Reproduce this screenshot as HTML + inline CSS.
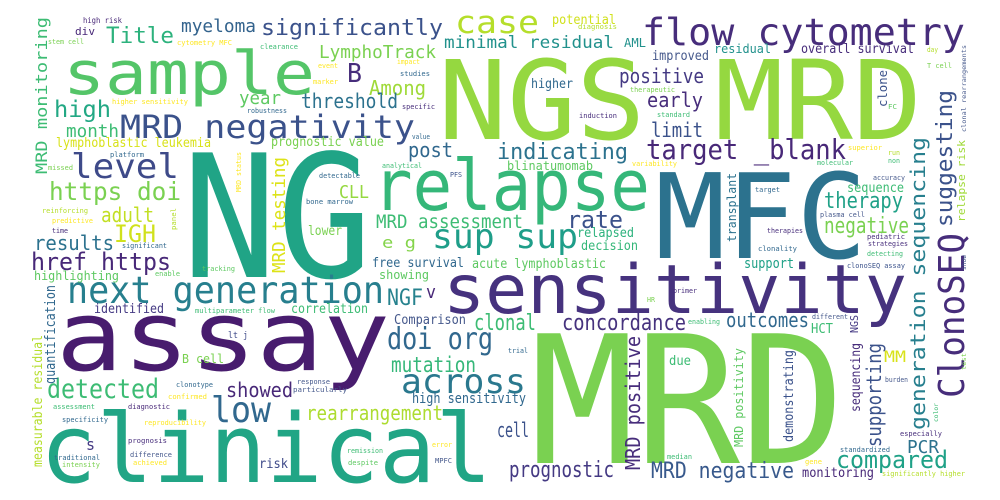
<!DOCTYPE html>
<html><head><meta charset="utf-8"><style>
html,body{margin:0;padding:0;background:#fff;}
svg{display:block;}
text{font-family:"DejaVu Sans Mono","Liberation Mono",monospace;}
</style></head><body>
<svg width="1000" height="500" viewBox="0 0 1000 500" xmlns="http://www.w3.org/2000/svg">
<rect width="1000" height="500" fill="#ffffff"/>
<g>
<text x="182" y="277" font-size="171" fill="#20a486" textLength="190" lengthAdjust="spacingAndGlyphs">NG</text>
<text x="438" y="139" font-size="110" fill="#95d840" textLength="484" lengthAdjust="spacingAndGlyphs">NGS MRD</text>
<text x="530" y="463" font-size="178" fill="#7ad151" textLength="315" lengthAdjust="spacingAndGlyphs">MRD</text>
<text x="655" y="258" font-size="118" fill="#2c728e" textLength="212" lengthAdjust="spacingAndGlyphs">MFC</text>
<text x="56" y="370" font-size="97" fill="#481c6e" textLength="334" lengthAdjust="spacingAndGlyphs">assay</text>
<text x="40" y="482" font-size="95" fill="#21a585" textLength="452" lengthAdjust="spacingAndGlyphs">clinical</text>
<text x="443" y="313" font-size="68" fill="#46327e" textLength="464" lengthAdjust="spacingAndGlyphs">sensitivity</text>
<text x="373" y="210" font-size="70" fill="#35b779" textLength="277" lengthAdjust="spacingAndGlyphs">relapse</text>
<text x="63" y="94" font-size="60" fill="#54c568" textLength="252" lengthAdjust="spacingAndGlyphs">sample</text>
<text x="642" y="45" font-size="37" fill="#472d7b" textLength="323" lengthAdjust="spacingAndGlyphs">flow cytometry</text>
<text x="455" y="33" font-size="31" fill="#b5de2b" textLength="84" lengthAdjust="spacingAndGlyphs">case</text>
<text x="67" y="303" font-size="37" fill="#277f8e" textLength="317" lengthAdjust="spacingAndGlyphs">next generation</text>
<text x="120" y="138" font-size="32" fill="#3b528b" textLength="295" lengthAdjust="spacingAndGlyphs">MRD negativity</text>
<text x="71" y="178" font-size="34" fill="#3e4a89" textLength="108" lengthAdjust="spacingAndGlyphs">level</text>
<text x="49" y="200" font-size="25" fill="#7ad151" textLength="132" lengthAdjust="spacingAndGlyphs">https doi</text>
<text x="54" y="117" font-size="23" fill="#22a884" textLength="57" lengthAdjust="spacingAndGlyphs">high</text>
<text x="66" y="137" font-size="18" fill="#3dbc74" textLength="53" lengthAdjust="spacingAndGlyphs">month</text>
<text x="106" y="43" font-size="22" fill="#2db27d" textLength="68" lengthAdjust="spacingAndGlyphs">Title</text>
<text x="181" y="32" font-size="18" fill="#33638d" textLength="75" lengthAdjust="spacingAndGlyphs">myeloma</text>
<text x="261" y="35" font-size="22" fill="#3b528b" textLength="182" lengthAdjust="spacingAndGlyphs">significantly</text>
<text x="319" y="58" font-size="18" fill="#7ad151" textLength="117" lengthAdjust="spacingAndGlyphs">LymphoTrack</text>
<text x="347" y="82" font-size="26" fill="#472d7b" textLength="15" lengthAdjust="spacingAndGlyphs">B</text>
<text x="369" y="95" font-size="20" fill="#a0da39" textLength="57" lengthAdjust="spacingAndGlyphs">Among</text>
<text x="239" y="104" font-size="18" fill="#5ec962" textLength="42" lengthAdjust="spacingAndGlyphs">year</text>
<text x="301" y="108" font-size="20" fill="#2c728e" textLength="97" lengthAdjust="spacingAndGlyphs">threshold</text>
<text x="444" y="48" font-size="17" fill="#21918c" textLength="170" lengthAdjust="spacingAndGlyphs">minimal residual</text>
<text x="271" y="146" font-size="13" fill="#7ad151" textLength="113" lengthAdjust="spacingAndGlyphs">prognostic value</text>
<text x="56" y="147" font-size="13" fill="#d8e219" textLength="155" lengthAdjust="spacingAndGlyphs">lymphoblastic leukemia</text>
<text transform="translate(47,174) rotate(-90)" font-size="16" fill="#3dbc74" textLength="157" lengthAdjust="spacingAndGlyphs">MRD monitoring</text>
<text transform="translate(285,273) rotate(-90)" font-size="18" fill="#dde318" textLength="116" lengthAdjust="spacingAndGlyphs">MRD testing</text>
<text x="101" y="222" font-size="20" fill="#c2df23" textLength="53" lengthAdjust="spacingAndGlyphs">adult</text>
<text x="114" y="242" font-size="24" fill="#d0e11c" textLength="42" lengthAdjust="spacingAndGlyphs">IGH</text>
<text x="34" y="250" font-size="20" fill="#2c728e" textLength="80" lengthAdjust="spacingAndGlyphs">results</text>
<text x="31" y="270" font-size="24" fill="#482878" textLength="140" lengthAdjust="spacingAndGlyphs">href https</text>
<text x="34" y="280" font-size="12" fill="#5ec962" textLength="85" lengthAdjust="spacingAndGlyphs">highlighting</text>
<text x="339" y="198" font-size="18" fill="#95d840" textLength="30" lengthAdjust="spacingAndGlyphs">CLL</text>
<text x="376" y="228" font-size="19" fill="#3dbc74" textLength="147" lengthAdjust="spacingAndGlyphs">MRD assessment</text>
<text x="382" y="248" font-size="16" fill="#84d44b" textLength="34" lengthAdjust="spacingAndGlyphs">e g</text>
<text x="432" y="248" font-size="34" fill="#1f9e89" textLength="146" lengthAdjust="spacingAndGlyphs">sup sup</text>
<text x="372" y="267" font-size="13" fill="#31688e" textLength="92" lengthAdjust="spacingAndGlyphs">free survival</text>
<text x="472" y="268" font-size="13" fill="#5ec962" textLength="134" lengthAdjust="spacingAndGlyphs">acute lymphoblastic</text>
<text x="379" y="279" font-size="12" fill="#5ec962" textLength="50" lengthAdjust="spacingAndGlyphs">showing</text>
<text x="387" y="305" font-size="22" fill="#26828e" textLength="36" lengthAdjust="spacingAndGlyphs">NGF</text>
<text x="426" y="298" font-size="18" fill="#482878" textLength="10" lengthAdjust="spacingAndGlyphs">v</text>
<text x="94" y="313" font-size="13" fill="#443983" textLength="70" lengthAdjust="spacingAndGlyphs">identified</text>
<text x="291" y="313" font-size="13" fill="#3dbc74" textLength="77" lengthAdjust="spacingAndGlyphs">correlation</text>
<text x="394" y="324" font-size="13" fill="#46598c" textLength="72" lengthAdjust="spacingAndGlyphs">Comparison</text>
<text x="387" y="349" font-size="30" fill="#31688e" textLength="106" lengthAdjust="spacingAndGlyphs">doi org</text>
<text x="391" y="372" font-size="21" fill="#35b779" textLength="85" lengthAdjust="spacingAndGlyphs">mutation</text>
<text x="401" y="393" font-size="34" fill="#2a788e" textLength="125" lengthAdjust="spacingAndGlyphs">across</text>
<text x="47" y="398" font-size="27" fill="#3dbc74" textLength="112" lengthAdjust="spacingAndGlyphs">detected</text>
<text x="226" y="397" font-size="20" fill="#482878" textLength="67" lengthAdjust="spacingAndGlyphs">showed</text>
<text x="211" y="422" font-size="36" fill="#31688e" textLength="60" lengthAdjust="spacingAndGlyphs">low</text>
<text x="306" y="420" font-size="20" fill="#addc30" textLength="137" lengthAdjust="spacingAndGlyphs">rearrangement</text>
<text x="412" y="403" font-size="14" fill="#31688e" textLength="114" lengthAdjust="spacingAndGlyphs">high sensitivity</text>
<text x="182" y="363" font-size="12" fill="#7ad151" textLength="42" lengthAdjust="spacingAndGlyphs">B cell</text>
<text transform="translate(55,384) rotate(-90)" font-size="14" fill="#31688e" textLength="99" lengthAdjust="spacingAndGlyphs">quantification</text>
<text transform="translate(42,467) rotate(-90)" font-size="13" fill="#b5de2b" textLength="132" lengthAdjust="spacingAndGlyphs">measurable residual</text>
<text x="86" y="450" font-size="16" fill="#443983" textLength="9" lengthAdjust="spacingAndGlyphs">s</text>
<text x="259" y="468" font-size="13" fill="#3e4a89" textLength="29" lengthAdjust="spacingAndGlyphs">risk</text>
<text x="497" y="437" font-size="20" fill="#3b528b" textLength="32" lengthAdjust="spacingAndGlyphs">cell</text>
<text x="408" y="157" font-size="20" fill="#31688e" textLength="45" lengthAdjust="spacingAndGlyphs">post</text>
<text x="308" y="235" font-size="13" fill="#7ad151" textLength="34" lengthAdjust="spacingAndGlyphs">lower</text>
<text x="646" y="159" font-size="28" fill="#482878" textLength="200" lengthAdjust="spacingAndGlyphs">target _blank</text>
<text x="497" y="159" font-size="22" fill="#2c728e" textLength="131" lengthAdjust="spacingAndGlyphs">indicating</text>
<text x="619" y="83" font-size="20" fill="#443983" textLength="85" lengthAdjust="spacingAndGlyphs">positive</text>
<text x="647" y="107" font-size="20" fill="#472d7b" textLength="56" lengthAdjust="spacingAndGlyphs">early</text>
<text x="651" y="137" font-size="20" fill="#3b528b" textLength="52" lengthAdjust="spacingAndGlyphs">limit</text>
<text x="531" y="88" font-size="13" fill="#31688e" textLength="42" lengthAdjust="spacingAndGlyphs">higher</text>
<text x="652" y="60" font-size="13" fill="#46598c" textLength="57" lengthAdjust="spacingAndGlyphs">improved</text>
<text x="552" y="24" font-size="13" fill="#d0e11c" textLength="64" lengthAdjust="spacingAndGlyphs">potential</text>
<text x="624" y="47" font-size="12" fill="#21918c" textLength="22" lengthAdjust="spacingAndGlyphs">AML</text>
<text x="714" y="53" font-size="12" fill="#21918c" textLength="57" lengthAdjust="spacingAndGlyphs">residual</text>
<text x="801" y="53" font-size="13" fill="#472d7b" textLength="113" lengthAdjust="spacingAndGlyphs">overall survival</text>
<text x="507" y="170" font-size="12" fill="#5ec962" textLength="86" lengthAdjust="spacingAndGlyphs">blinatumomab</text>
<text x="567" y="228" font-size="24" fill="#3b528b" textLength="56" lengthAdjust="spacingAndGlyphs">rate</text>
<text x="577" y="237" font-size="13" fill="#2db27d" textLength="57" lengthAdjust="spacingAndGlyphs">relapsed</text>
<text x="581" y="250" font-size="13" fill="#35b779" textLength="57" lengthAdjust="spacingAndGlyphs">decision</text>
<text x="824" y="208" font-size="22" fill="#1fa187" textLength="79" lengthAdjust="spacingAndGlyphs">therapy</text>
<text x="824" y="233" font-size="22" fill="#7ad151" textLength="85" lengthAdjust="spacingAndGlyphs">negative</text>
<text x="847" y="192" font-size="13" fill="#3dbc74" textLength="57" lengthAdjust="spacingAndGlyphs">sequence</text>
<text x="744" y="268" font-size="14" fill="#1fa187" textLength="50" lengthAdjust="spacingAndGlyphs">support</text>
<text x="562" y="330" font-size="22" fill="#46327e" textLength="124" lengthAdjust="spacingAndGlyphs">concordance</text>
<text x="726" y="327" font-size="20" fill="#31688e" textLength="83" lengthAdjust="spacingAndGlyphs">outcomes</text>
<text x="474" y="330" font-size="22" fill="#3dbc74" textLength="62" lengthAdjust="spacingAndGlyphs">clonal</text>
<text x="811" y="333" font-size="13" fill="#3dbc74" textLength="22" lengthAdjust="spacingAndGlyphs">HCT</text>
<text transform="translate(736,242) rotate(-90)" font-size="12" fill="#2c728e" textLength="69" lengthAdjust="spacingAndGlyphs">transplant</text>
<text transform="translate(925,430) rotate(-90)" font-size="20" fill="#277f8e" textLength="293" lengthAdjust="spacingAndGlyphs">generation sequencing</text>
<text transform="translate(964,398) rotate(-90)" font-size="36" fill="#472d7b" textLength="165" lengthAdjust="spacingAndGlyphs">ClonoSEQ</text>
<text transform="translate(952,227) rotate(-90)" font-size="22" fill="#3b528b" textLength="137" lengthAdjust="spacingAndGlyphs">suggesting</text>
<text transform="translate(965,222) rotate(-90)" font-size="11" fill="#a0da39" textLength="82" lengthAdjust="spacingAndGlyphs">relapse risk</text>
<text transform="translate(887,107) rotate(-90)" font-size="12" fill="#3b528b" textLength="37" lengthAdjust="spacingAndGlyphs">clone</text>
<text transform="translate(881,447) rotate(-90)" font-size="20" fill="#3b528b" textLength="104" lengthAdjust="spacingAndGlyphs">supporting</text>
<text x="884" y="362" font-size="16" fill="#d8e219" textLength="22" lengthAdjust="spacingAndGlyphs">MM</text>
<text x="907" y="453" font-size="18" fill="#2c728e" textLength="32" lengthAdjust="spacingAndGlyphs">PCR</text>
<text x="836" y="468" font-size="24" fill="#1fa187" textLength="112" lengthAdjust="spacingAndGlyphs">compared</text>
<text x="802" y="477" font-size="13" fill="#482878" textLength="72" lengthAdjust="spacingAndGlyphs">monitoring</text>
<text x="651" y="478" font-size="22" fill="#38598c" textLength="143" lengthAdjust="spacingAndGlyphs">MRD negative</text>
<text x="509" y="477" font-size="22" fill="#443983" textLength="105" lengthAdjust="spacingAndGlyphs">prognostic</text>
<text transform="translate(640,470) rotate(-90)" font-size="20" fill="#472d7b" textLength="134" lengthAdjust="spacingAndGlyphs">MRD positive</text>
<text transform="translate(743,447) rotate(-90)" font-size="12" fill="#5ec962" textLength="99" lengthAdjust="spacingAndGlyphs">MRD positivity</text>
<text transform="translate(793,442) rotate(-90)" font-size="13" fill="#3b528b" textLength="92" lengthAdjust="spacingAndGlyphs">demonstrating</text>
<text transform="translate(860,412) rotate(-90)" font-size="13" fill="#472d7b" textLength="69" lengthAdjust="spacingAndGlyphs">sequencing</text>
<text x="669" y="365" font-size="13" fill="#3dbc74" textLength="22" lengthAdjust="spacingAndGlyphs">due</text>
<text transform="translate(858,333) rotate(-90)" font-size="11" fill="#443983" textLength="18" lengthAdjust="spacingAndGlyphs">NGS</text>
<text x="83" y="23" font-size="8" fill="#482878" textLength="39" lengthAdjust="spacingAndGlyphs">high risk</text>
<text x="75" y="35" font-size="11" fill="#482878" textLength="20" lengthAdjust="spacingAndGlyphs">div</text>
<text x="48" y="44" font-size="7" fill="#7ad151" textLength="36" lengthAdjust="spacingAndGlyphs">stem cell</text>
<text x="177" y="45" font-size="7" fill="#fde725" textLength="55" lengthAdjust="spacingAndGlyphs">cytometry MFC</text>
<text x="112" y="104" font-size="7" fill="#fde725" textLength="76" lengthAdjust="spacingAndGlyphs">higher sensitivity</text>
<text x="110" y="157" font-size="7" fill="#31688e" textLength="34" lengthAdjust="spacingAndGlyphs">platform</text>
<text x="195" y="313" font-size="7" fill="#3dbc74" textLength="80" lengthAdjust="spacingAndGlyphs">multiparameter flow</text>
<text x="62" y="422" font-size="7" fill="#31688e" textLength="46" lengthAdjust="spacingAndGlyphs">specificity</text>
<text x="54" y="460" font-size="7" fill="#31688e" textLength="46" lengthAdjust="spacingAndGlyphs">traditional</text>
<text x="144" y="425" font-size="7" fill="#fde725" textLength="62" lengthAdjust="spacingAndGlyphs">reproducibility</text>
<text x="882" y="476" font-size="7" fill="#b5de2b" textLength="83" lengthAdjust="spacingAndGlyphs">significantly higher</text>
<text x="847" y="268" font-size="7" fill="#3b528b" textLength="58" lengthAdjust="spacingAndGlyphs">clonoSEQ assay</text>
<text x="382" y="168" font-size="7" fill="#3dbc74" textLength="40" lengthAdjust="spacingAndGlyphs">analytical</text>
<text x="319" y="178" font-size="7" fill="#31688e" textLength="41" lengthAdjust="spacingAndGlyphs">detectable</text>
<text x="306" y="204" font-size="7" fill="#31688e" textLength="47" lengthAdjust="spacingAndGlyphs">bone marrow</text>
<text x="450" y="177" font-size="7" fill="#3b528b" textLength="12" lengthAdjust="spacingAndGlyphs">PFS</text>
<text transform="translate(241,192) rotate(-90)" font-size="7" fill="#fde725" textLength="40" lengthAdjust="spacingAndGlyphs">MRD status</text>
<text transform="translate(176,230) rotate(-90)" font-size="7" fill="#b5de2b" textLength="22" lengthAdjust="spacingAndGlyphs">panel</text>
<text x="122" y="248" font-size="7" fill="#31688e" textLength="45" lengthAdjust="spacingAndGlyphs">significant</text>
<text x="48" y="170" font-size="7" fill="#7ad151" textLength="25" lengthAdjust="spacingAndGlyphs">missed</text>
<text x="42" y="213" font-size="7" fill="#b5de2b" textLength="46" lengthAdjust="spacingAndGlyphs">reinforcing</text>
<text x="52" y="223" font-size="7" fill="#fde725" textLength="41" lengthAdjust="spacingAndGlyphs">predictive</text>
<text x="52" y="233" font-size="7" fill="#472d7b" textLength="16" lengthAdjust="spacingAndGlyphs">time</text>
<text x="202" y="271" font-size="7" fill="#5ec962" textLength="33" lengthAdjust="spacingAndGlyphs">tracking</text>
<text x="155" y="276" font-size="7" fill="#5ec962" textLength="25" lengthAdjust="spacingAndGlyphs">enable</text>
<text x="228" y="338" font-size="9" fill="#3e4a89" textLength="20" lengthAdjust="spacingAndGlyphs">lt j</text>
<text x="176" y="387" font-size="7" fill="#31688e" textLength="37" lengthAdjust="spacingAndGlyphs">clonotype</text>
<text x="168" y="399" font-size="7" fill="#fde725" textLength="39" lengthAdjust="spacingAndGlyphs">confirmed</text>
<text x="128" y="409" font-size="7" fill="#482878" textLength="42" lengthAdjust="spacingAndGlyphs">diagnostic</text>
<text x="53" y="409" font-size="7" fill="#3dbc74" textLength="42" lengthAdjust="spacingAndGlyphs">assessment</text>
<text x="128" y="443" font-size="7" fill="#472d7b" textLength="39" lengthAdjust="spacingAndGlyphs">prognosis</text>
<text x="130" y="457" font-size="7" fill="#46598c" textLength="42" lengthAdjust="spacingAndGlyphs">difference</text>
<text x="133" y="465" font-size="7" fill="#fde725" textLength="34" lengthAdjust="spacingAndGlyphs">achieved</text>
<text x="62" y="467" font-size="7" fill="#7ad151" textLength="38" lengthAdjust="spacingAndGlyphs">intensity</text>
<text x="297" y="384" font-size="7" fill="#46598c" textLength="33" lengthAdjust="spacingAndGlyphs">response</text>
<text x="293" y="392" font-size="7" fill="#46598c" textLength="54" lengthAdjust="spacingAndGlyphs">particularly</text>
<text x="347" y="453" font-size="7" fill="#3dbc74" textLength="36" lengthAdjust="spacingAndGlyphs">remission</text>
<text x="348" y="465" font-size="7" fill="#5ec962" textLength="30" lengthAdjust="spacingAndGlyphs">despite</text>
<text x="435" y="463" font-size="7" fill="#46598c" textLength="17" lengthAdjust="spacingAndGlyphs">MPFC</text>
<text x="432" y="447" font-size="7" fill="#fde725" textLength="20" lengthAdjust="spacingAndGlyphs">error</text>
<text x="247" y="113" font-size="7" fill="#31688e" textLength="40" lengthAdjust="spacingAndGlyphs">robustness</text>
<text x="260" y="49" font-size="7" fill="#3dbc74" textLength="38" lengthAdjust="spacingAndGlyphs">clearance</text>
<text x="318" y="68" font-size="7" fill="#fde725" textLength="20" lengthAdjust="spacingAndGlyphs">event</text>
<text x="313" y="84" font-size="7" fill="#fde725" textLength="25" lengthAdjust="spacingAndGlyphs">marker</text>
<text x="397" y="64" font-size="7" fill="#fde725" textLength="23" lengthAdjust="spacingAndGlyphs">impact</text>
<text x="400" y="76" font-size="7" fill="#31688e" textLength="30" lengthAdjust="spacingAndGlyphs">studies</text>
<text x="402" y="109" font-size="7" fill="#472d7b" textLength="33" lengthAdjust="spacingAndGlyphs">specific</text>
<text x="412" y="139" font-size="7" fill="#31688e" textLength="18" lengthAdjust="spacingAndGlyphs">value</text>
<text x="578" y="29" font-size="7" fill="#b5de2b" textLength="39" lengthAdjust="spacingAndGlyphs">diagnosis</text>
<text x="927" y="52" font-size="7" fill="#b5de2b" textLength="11" lengthAdjust="spacingAndGlyphs">day</text>
<text x="927" y="68" font-size="7" fill="#7ad151" textLength="25" lengthAdjust="spacingAndGlyphs">T cell</text>
<text x="888" y="109" font-size="7" fill="#5ec962" textLength="9" lengthAdjust="spacingAndGlyphs">FC</text>
<text x="630" y="92" font-size="7" fill="#7ad151" textLength="45" lengthAdjust="spacingAndGlyphs">therapeutic</text>
<text x="579" y="118" font-size="7" fill="#472d7b" textLength="38" lengthAdjust="spacingAndGlyphs">induction</text>
<text x="657" y="117" font-size="7" fill="#3dbc74" textLength="33" lengthAdjust="spacingAndGlyphs">standard</text>
<text x="848" y="150" font-size="7" fill="#fde725" textLength="34" lengthAdjust="spacingAndGlyphs">superior</text>
<text x="888" y="155" font-size="7" fill="#b5de2b" textLength="12" lengthAdjust="spacingAndGlyphs">run</text>
<text x="888" y="163" font-size="7" fill="#3dbc74" textLength="12" lengthAdjust="spacingAndGlyphs">non</text>
<text x="632" y="166" font-size="7" fill="#fde725" textLength="45" lengthAdjust="spacingAndGlyphs">variability</text>
<text x="817" y="165" font-size="7" fill="#3dbc74" textLength="36" lengthAdjust="spacingAndGlyphs">molecular</text>
<text x="873" y="180" font-size="7" fill="#46598c" textLength="32" lengthAdjust="spacingAndGlyphs">accuracy</text>
<text x="755" y="192" font-size="7" fill="#31688e" textLength="25" lengthAdjust="spacingAndGlyphs">target</text>
<text x="820" y="217" font-size="7" fill="#46598c" textLength="45" lengthAdjust="spacingAndGlyphs">plasma cell</text>
<text x="767" y="233" font-size="7" fill="#472d7b" textLength="36" lengthAdjust="spacingAndGlyphs">therapies</text>
<text x="867" y="239" font-size="7" fill="#472d7b" textLength="38" lengthAdjust="spacingAndGlyphs">pediatric</text>
<text x="868" y="246" font-size="7" fill="#472d7b" textLength="40" lengthAdjust="spacingAndGlyphs">strategies</text>
<text x="758" y="251" font-size="7" fill="#31688e" textLength="39" lengthAdjust="spacingAndGlyphs">clonality</text>
<text x="867" y="256" font-size="7" fill="#3dbc74" textLength="36" lengthAdjust="spacingAndGlyphs">detecting</text>
<text x="673" y="293" font-size="7" fill="#472d7b" textLength="24" lengthAdjust="spacingAndGlyphs">primer</text>
<text x="647" y="302" font-size="7" fill="#7ad151" textLength="8" lengthAdjust="spacingAndGlyphs">HR</text>
<text x="812" y="319" font-size="7" fill="#46598c" textLength="36" lengthAdjust="spacingAndGlyphs">different</text>
<text x="688" y="324" font-size="7" fill="#3dbc74" textLength="32" lengthAdjust="spacingAndGlyphs">enabling</text>
<text x="508" y="353" font-size="7" fill="#31688e" textLength="20" lengthAdjust="spacingAndGlyphs">trial</text>
<text x="885" y="382" font-size="7" fill="#46598c" textLength="23" lengthAdjust="spacingAndGlyphs">burden</text>
<text x="900" y="436" font-size="7" fill="#472d7b" textLength="42" lengthAdjust="spacingAndGlyphs">especially</text>
<text x="840" y="452" font-size="7" fill="#31688e" textLength="50" lengthAdjust="spacingAndGlyphs">standardized</text>
<text x="667" y="459" font-size="7" fill="#3dbc74" textLength="25" lengthAdjust="spacingAndGlyphs">median</text>
<text x="805" y="464" font-size="7" fill="#fde725" textLength="17" lengthAdjust="spacingAndGlyphs">gene</text>
<text transform="translate(966,132) rotate(-90)" font-size="6" fill="#46598c" textLength="87" lengthAdjust="spacingAndGlyphs">clonal rearrangements</text>
<text transform="translate(966,370) rotate(-90)" font-size="6" fill="#7ad151" textLength="17" lengthAdjust="spacingAndGlyphs">test</text>
<text transform="translate(938,422) rotate(-90)" font-size="6" fill="#3dbc74" textLength="19" lengthAdjust="spacingAndGlyphs">color</text>
<text transform="translate(966,270) rotate(-90)" font-size="6" fill="#46598c" textLength="15" lengthAdjust="spacingAndGlyphs">show</text>
</g>
</svg>
</body></html>
